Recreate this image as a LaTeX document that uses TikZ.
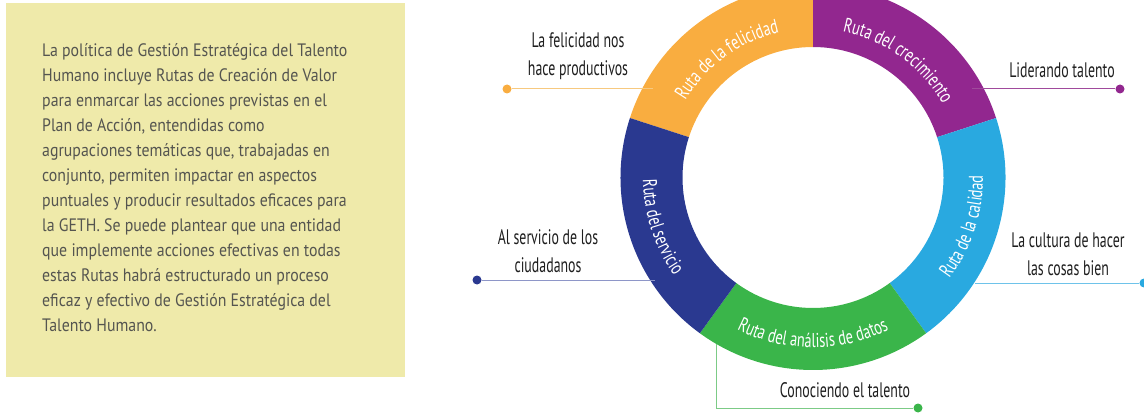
\documentclass[tikz,border=0pt]{standalone}
\usepackage{fontspec}
\setmainfont{PT Sans}
\newfontfamily\bodyfont[FakeStretch=0.88]{PT Sans}
\newfontfamily\labfont[FakeStretch=0.66]{PT Sans}
\newfontfamily\ringfont[FakeStretch=0.72]{PT Sans}
\usetikzlibrary{decorations.text}
\definecolor{boxyellow}{RGB}{239,234,170}
\definecolor{bodygrey}{RGB}{85,85,80}
\definecolor{labblack}{RGB}{30,30,30}
\definecolor{rorange}{RGB}{249,173,64}
\definecolor{rpurple}{RGB}{146,39,143}
\definecolor{rcyan}{RGB}{41,169,224}
\definecolor{rgreen}{RGB}{58,181,74}
\definecolor{rblue}{RGB}{42,57,144}
\definecolor{lorange}{RGB}{247,201,127}
\definecolor{lpurple}{RGB}{160,74,156}
\definecolor{lblue}{RGB}{142,150,200}
\definecolor{lcyan}{RGB}{110,195,234}
\definecolor{lgreen}{RGB}{124,203,134}
\newcommand\ringseg[3]{\fill[#1] ([shift={(#2:192.5pt)}]C) arc[start angle=#2,end angle=#3,radius=192.5pt] -- ([shift={(#3:130.5pt)}]C) arc[start angle=#3,end angle=#2,radius=130.5pt] -- cycle;}
\tikzset{
  dot/.style={circle,inner sep=0pt,minimum size=9pt},
  conn/.style={line width=1pt},
  lab/.style={align=center,text=labblack,font=\labfont\fontsize{21}{28}\selectfont,inner sep=0pt},
  ringlabel/.style={decorate,decoration={text along path,text align=center,text={|\ringfont\fontsize{20}{20}\selectfont\color{white}|#1}}},
}
\begin{document}
\begin{tikzpicture}[x=1pt,y=1pt]
\useasboundingbox (0,0) rectangle (1144,413);
\clip (0,0) rectangle (1144,413);
% text box
\fill[boxyellow] (6,36) rectangle (405,410);
\node[anchor=north west,inner sep=0pt,align=left,text=bodygrey,font=\bodyfont\fontsize{18}{25}\selectfont] (body) at (42,370) {La política de Gestión Estratégica del Talento\\Humano incluye Rutas de Creación de Valor\\para enmarcar las acciones previstas en el\\Plan de Acción, entendidas como\\agrupaciones temáticas que, trabajadas en\\conjunto, permiten impactar en aspectos\\puntuales y producir resultados eficaces para\\la GETH. Se puede plantear que una entidad\\que implemente acciones efectivas en todas\\estas Rutas habrá estructurado un proceso\\eficaz y efectivo de Gestión Estratégica del\\Talento Humano.};
% ring
\coordinate (C) at (813,235.5);
\ringseg{rorange}{90}{162}
\ringseg{rpurple}{18}{90}
\ringseg{rcyan}{-54}{18}
\ringseg{rgreen}{-126}{-54}
\ringseg{rblue}{162}{234}
% ring labels
\path[ringlabel={Ruta de la felicidad}] ([shift={(162:149pt)}]C) arc[start angle=162,end angle=90,radius=149pt];
\path[ringlabel={Ruta del crecimiento}] ([shift={(90:149pt)}]C) arc[start angle=90,end angle=18,radius=149pt];
\path[ringlabel={Ruta de la calidad}] ([shift={(-54:170pt)}]C) arc[start angle=-54,end angle=18,radius=170pt];
\path[ringlabel={Ruta del análisis de datos}] ([shift={(-126:170pt)}]C) arc[start angle=-126,end angle=-54,radius=170pt];
\path[ringlabel={Ruta del servicio}] ([shift={(162:170pt)}]C) arc[start angle=162,end angle=234,radius=170pt];
% outer labels and connectors
\node[lab] (t1) at (578,357) {La felicidad nos\\hace productivos};
\node[dot,fill=rorange] (d1) at (507,324) {};
\coordinate (e1) at (653,324);
\draw[conn,lorange] (d1) -- (e1);

\node[lab] (t2) at (1062,343) {Liderando talento};
\node[dot,fill=rpurple] (d2) at (1120,324) {};
\coordinate (e2) at (972,324);
\draw[conn,lpurple] (e2) -- (d2);

\node[lab] (t3) at (548,162) {Al servicio de los\\ciudadanos};
\node[dot,fill=rblue] (d3) at (477,133) {};
\coordinate (e3) at (655,133);
\draw[conn,lblue] (d3) -- (e3);

\node[lab] (t4) at (1068,159) {La cultura de hacer\\las cosas bien};
\node[dot,fill=rcyan] (d4) at (1144,130) {};
\coordinate (e4) at (975,130);
\draw[conn,lcyan] (e4) -- (d4);

\node[lab] (t5) at (845,23) {Conociendo el talento};
\node[dot,fill=rgreen] (d5) at (918,5) {};
\coordinate (e5) at (716,69);
\draw[conn,lgreen] (e5) |- (d5);
\end{tikzpicture}
\end{document}
